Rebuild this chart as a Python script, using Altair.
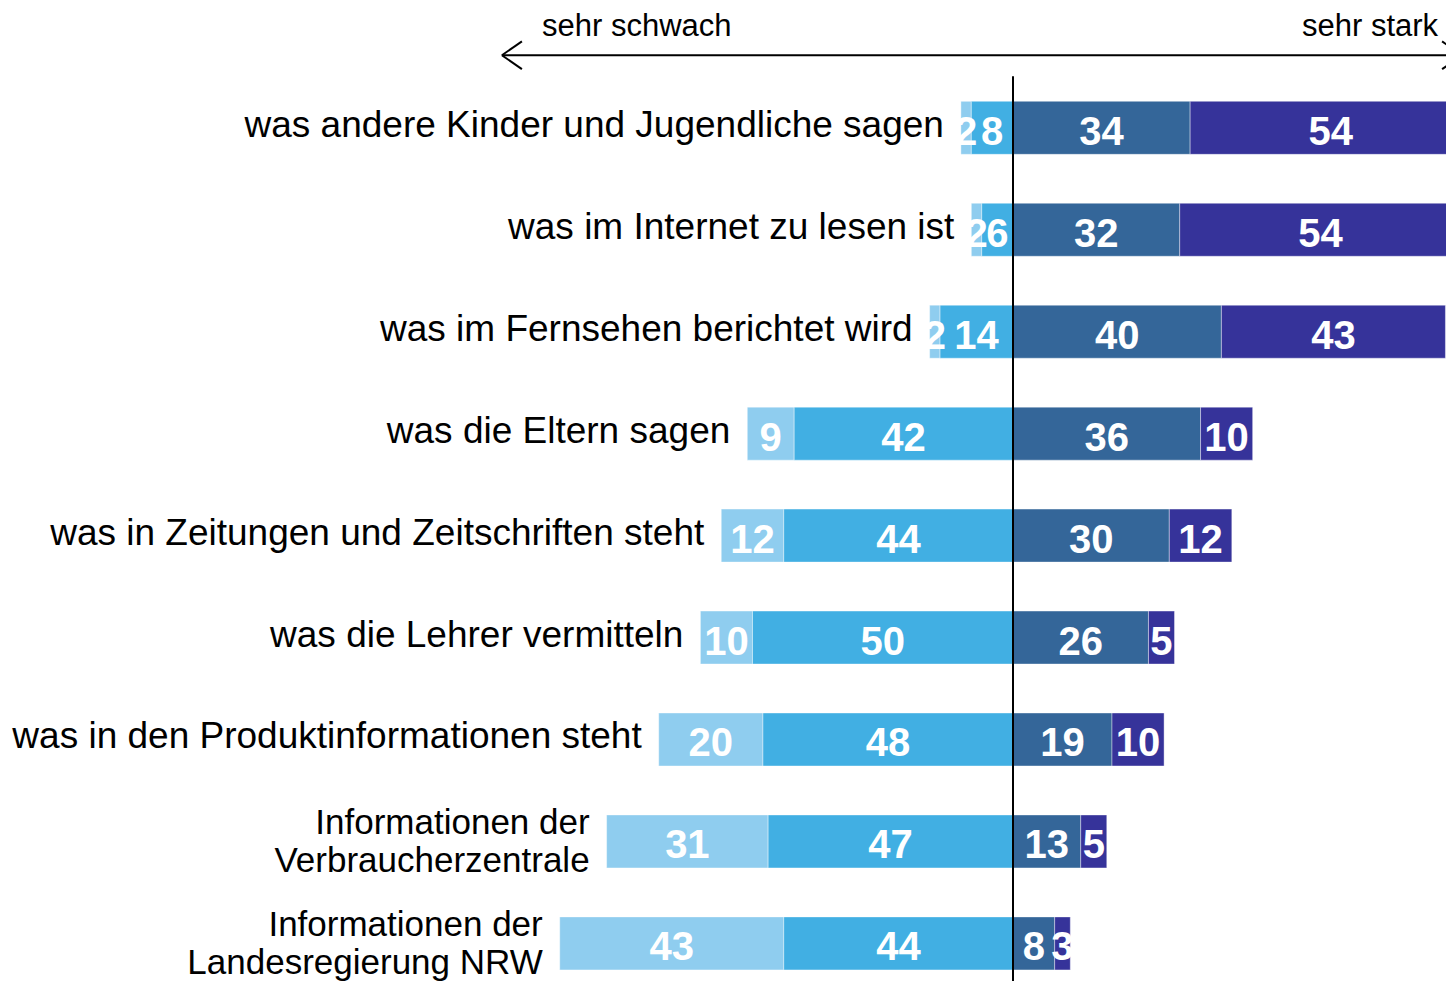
import altair as alt
import pandas as pd

categories = [
    "was andere Kinder und Jugendliche sagen",
    "was im Internet zu lesen ist",
    "was im Fernsehen berichtet wird",
    "was die Eltern sagen",
    "was in Zeitungen und Zeitschriften steht",
    "was die Lehrer vermitteln",
    "was in den Produktinformationen steht",
    "Informationen der\nVerbraucherzentrale",
    "Informationen der\nLandesregierung NRW",
]
very_weak = [2, 2, 2, 9, 12, 10, 20, 31, 43]
weak = [8, 6, 14, 42, 44, 50, 48, 47, 44]
strong = [34, 32, 40, 36, 30, 26, 19, 13, 8]
very_strong = [54, 54, 43, 10, 12, 5, 10, 5, 3]

colors = ["#8FCDEF", "#41AFE3", "#346699", "#36339A"]
segment_names = ["sehr schwach", "schwach", "stark", "sehr stark"]

# annotation (arrow on top), in data units
arrow_left = -98.1
arrow_right = 86.2
arrow_y = -0.7116
head_dx = 3.84
head_dy = 0.136
label_left_x = -90.4
label_right_x = 81.6
label_y = -0.903
center_top = -0.505

rows = []
for i, cat in enumerate(categories):
    a, b, c, d = very_weak[i], weak[i], strong[i], very_strong[i]
    segs = [(-(a + b), -b, a), (-b, 0, b), (0, c, c), (c, c + d, d)]
    for k, (s, e, v) in enumerate(segs):
        rows.append({"row": i, "cat": cat, "seg": segment_names[k], "start": s,
                     "end": e, "mid": (s + e) / 2, "value": v})
df = pd.DataFrame(rows)

lab = pd.DataFrame({"row": list(range(len(categories))), "cat": categories,
                    "left": [-(a + b) for a, b in zip(very_weak, weak)],
                    "multi": ["\n" in c for c in categories]})

xs = alt.Scale(domain=[-192.9, 83.11], nice=False, zero=False)
ys = alt.Scale(domain=[-1.1262, 8.3689], nice=False, zero=False, reverse=True)

base = alt.Chart(df)
bars = base.mark_bar(size=53, clip=True, stroke="white", strokeWidth=0.8, strokeOpacity=0.5).encode(
    x=alt.X("start:Q", scale=xs, axis=None),
    x2="end:Q",
    y=alt.Y("row:Q", scale=ys, axis=None),
    color=alt.Color("seg:N", scale=alt.Scale(domain=segment_names, range=colors), legend=None),
)
nums = base.mark_text(font="Liberation Sans", fontSize=40, fontWeight="bold", color="white",
                      baseline="alphabetic", dy=17, clip=True).encode(
    x=alt.X("mid:Q", scale=xs, axis=None),
    y=alt.Y("row:Q", scale=ys, axis=None),
    text="value:Q",
)
lab_enc = dict(
    x=alt.X("left:Q", scale=xs, axis=None),
    y=alt.Y("row:Q", scale=ys, axis=None),
    text="cat:N",
)
labels_single = alt.Chart(lab).transform_filter("!datum.multi").mark_text(
    font="Liberation Sans", fontSize=37, color="black", align="right",
    baseline="alphabetic", dx=-17, dy=9).encode(**lab_enc)
labels_multi = alt.Chart(lab).transform_filter("datum.multi").mark_text(
    font="Liberation Sans", fontSize=35, color="black", align="right",
    baseline="alphabetic", dx=-17, dy=-7, lineBreak="\n", lineHeight=38).encode(**lab_enc)

center = alt.Chart(pd.DataFrame({"x": [0], "y": [center_top], "y2": [8.3689]})).mark_rule(
    color="black", strokeWidth=2).encode(
    x=alt.X("x:Q", scale=xs, axis=None),
    y=alt.Y("y:Q", scale=ys, axis=None),
    y2="y2:Q",
)

arrow_df = pd.DataFrame({
    "x": [arrow_left, arrow_left, arrow_left, arrow_right, arrow_right],
    "x2": [arrow_right, arrow_left + head_dx, arrow_left + head_dx, arrow_right - head_dx, arrow_right - head_dx],
    "y": [arrow_y] * 5,
    "y2": [arrow_y, arrow_y - head_dy, arrow_y + head_dy, arrow_y - head_dy, arrow_y + head_dy],
})
arrow = alt.Chart(arrow_df).mark_rule(color="black", strokeWidth=2, clip=True).encode(
    x=alt.X("x:Q", scale=xs, axis=None),
    x2="x2:Q",
    y=alt.Y("y:Q", scale=ys, axis=None),
    y2="y2:Q",
)
ends_df = pd.DataFrame({"x": [label_left_x, label_right_x], "y": [label_y, label_y],
                        "t": ["sehr schwach", "sehr stark"]})
end_left = alt.Chart(ends_df.iloc[[0]]).mark_text(font="Liberation Sans", fontSize=31, align="left",
                                                   baseline="alphabetic", color="black").encode(
    x=alt.X("x:Q", scale=xs, axis=None), y=alt.Y("y:Q", scale=ys, axis=None), text="t:N")
end_right = alt.Chart(ends_df.iloc[[1]]).mark_text(font="Liberation Sans", fontSize=31, align="right",
                                                    baseline="alphabetic", color="black").encode(
    x=alt.X("x:Q", scale=xs, axis=None), y=alt.Y("y:Q", scale=ys, axis=None), text="t:N")

chart = alt.layer(bars, nums, labels_single, labels_multi, center, arrow, end_left, end_right).properties(
    width=1438, height=978, padding=0, autosize=alt.AutoSizeParams(type="none"),
    background="white",
).configure_view(stroke=None)

chart.save("out.html", embed_options={"renderer": "svg", "actions": False})
